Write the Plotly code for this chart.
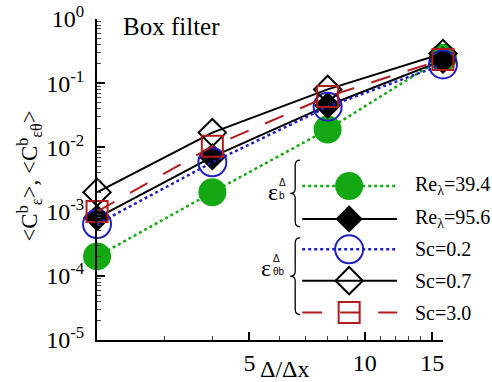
import math
import plotly.graph_objects as go

# ---------------- data ----------------
filter_width = [2, 4, 8, 16]
re_39_4 = [2.0e-4, 2.0e-3, 1.9e-2, 0.25]
re_95_6 = [8.0e-4, 7.1e-3, 4.5e-2, 0.226]
sc_0_2 = [6.4e-4, 5.85e-3, 4.3e-2, 0.196]
sc_0_7 = [2.0e-3, 1.7e-2, 8.0e-2, 0.29]
sc_3_0 = [1.0e-3, 1.04e-2, 6.2e-2, 0.235]

series_names = ["Re<sub>λ</sub>=39.4", "Re<sub>λ</sub>=95.6", "Sc=0.2", "Sc=0.7", "Sc=3.0"]
y_tick_vals = [1e-5, 1e-4, 1e-3, 1e-2, 1e-1, 1e0]
y_tick_text = ["10<sup>-5</sup>", "10<sup>-4</sup>", "10<sup>-3</sup>", "10<sup>-2</sup>",
               "10<sup>-1</sup>", "10<sup>0</sup>"]
x_tick_vals = [5, 10, 15]
x_tick_text = ["5", "10", "15"]

# ---------------- styles ----------------
GREEN = "#14a814"
BLUE = "#1f1fbf"
RED = "#b01c1c"
BLACK = "#000000"
SERIF = "Liberation Serif, Times New Roman, Times, serif"
SANS = "Liberation Sans, Arial, sans-serif"

styles = [
    dict(line=dict(color=GREEN, width=2.5, dash="dot"),
         marker=dict(symbol="circle", size=28, color=GREEN)),
    dict(line=dict(color=BLACK, width=2),
         marker=dict(symbol="diamond", size=21, color=BLACK)),
    dict(line=dict(color=BLUE, width=2.5, dash="dot"),
         marker=dict(symbol="circle-open", size=28, color=BLUE, line=dict(width=2, color=BLUE))),
    dict(line=dict(color=BLACK, width=2),
         marker=dict(symbol="diamond-open", size=21, color=BLACK, line=dict(width=2, color=BLACK))),
    dict(line=dict(color=RED, width=2, dash="20px,18px"),
         marker=dict(symbol="square-open", size=21, color=RED, line=dict(width=2, color=RED))),
]
series = [re_39_4, re_95_6, sc_0_2, sc_0_7, sc_3_0]

W, H = 492, 382
L, R, T, B = 96.5, 49, 18.5, 41.5
X0, X1 = L, W - R
Y0, Y1 = H - B, T


def px(xp):
    return (xp - X0) / (X1 - X0)


def py(yp):
    return (Y0 - yp) / (Y0 - Y1)


def ann(x, y, text, size, family=SERIF, ref="x2", **kw):
    fig.add_annotation(x=x, y=y, xref=ref, yref=ref.replace("x", "y"), text=text,
                       showarrow=False, xanchor=kw.pop("xanchor", "center"),
                       yanchor="middle", font=dict(family=family, size=size, color=BLACK),
                       **kw)


fig = go.Figure()

for vals, st, name in zip(series, styles, series_names):
    fig.add_trace(go.Scatter(x=filter_width, y=vals, mode="lines+markers", name=name,
                             line=st["line"], marker=st["marker"], cliponaxis=False,
                             showlegend=False))

# ---------------- custom legend (overlay pixel axes) ----------------
row_y = [186, 219, 249.5, 281, 313]
line_x = [302, 397]
mark_x = 349
for ry, st, name in zip(row_y, styles, series_names):
    fig.add_trace(go.Scatter(x=line_x, y=[ry, ry], mode="lines", line=st["line"],
                             xaxis="x2", yaxis="y2", showlegend=False, hoverinfo="skip",
                             cliponaxis=False))
    fig.add_trace(go.Scatter(x=[mark_x], y=[ry], mode="markers", marker=st["marker"],
                             xaxis="x2", yaxis="y2", showlegend=False, hoverinfo="skip",
                             cliponaxis=False))
    ann(413, ry, name, 20, xanchor="left")


def brace(xr, ytop, ybot, w=5, tip=5, r=5):
    ym = (ytop + ybot) / 2
    xm = xr - w
    xt = xm - tip
    return (f"M {xr},{ytop} Q {xm},{ytop} {xm},{ytop + r} "
            f"L {xm},{ym - r} Q {xm},{ym} {xt},{ym} "
            f"Q {xm},{ym} {xm},{ym + r} "
            f"L {xm},{ybot - r} Q {xm},{ybot} {xr},{ybot}")


for (yt, yb) in [(160, 227), (238, 315)]:
    fig.add_shape(type="path", path=brace(300, yt, yb), xref="x2", yref="y2",
                  line=dict(color=BLACK, width=1.3))

# epsilon labels
ann(272.5, 192, "ε", 24)
ann(277, 189, "Δ<br>b", 10, SANS, xanchor="left", align="left")
ann(266, 268, "ε", 24)
ann(270.5, 265, "Δ<br>θb", 10, SANS, xanchor="left", align="left")

# title text and axis titles
ann(px(171), py(26), "Box filter", 25, ref="paper")
ann(px(285), py(370), "Δ/Δx", 24, ref="paper")
ann(px(28), py(176),
    "&lt;C<sup>b</sup><sub>ε</sub>&gt;, &lt;C<sup>b</sup><sub>εθ</sub>&gt;", 23,
    ref="paper", textangle=-90)

y_minor = [m * 10.0 ** k for k in range(-5, 0) for m in range(2, 10)]
x_minor = [3, 4, 6, 7, 8, 9, 11, 12, 13, 14]

fig.update_layout(
    width=W, height=H,
    margin=dict(l=L, r=R, t=T, b=B, pad=0),
    paper_bgcolor="white", plot_bgcolor="white",
    showlegend=False,
    font=dict(family=SERIF, size=24, color=BLACK),
    xaxis=dict(type="log", range=[math.log10(2) - 1e-4, math.log10(16) + 1e-4],
               showline=True, linecolor=BLACK, automargin=False,
               linewidth=2, showgrid=False, zeroline=False, ticks="inside", ticklen=8,
               tickwidth=1.5, tickcolor=BLACK, tickmode="array", tickvals=x_tick_vals,
               ticktext=x_tick_text, tickfont=dict(family=SERIF, size=24),
               minor=dict(ticks="inside", ticklen=4, tickwidth=1, tickcolor="#444",
                          tickmode="array", tickvals=x_minor, showgrid=False)),
    yaxis=dict(type="log", range=[-5, 0], showline=True, linecolor=BLACK, automargin=False,
               linewidth=2, showgrid=False, zeroline=False, ticks="inside", ticklen=8,
               tickwidth=1.5, tickcolor=BLACK, tickmode="array", tickvals=y_tick_vals,
               ticktext=y_tick_text, tickfont=dict(family=SERIF, size=24),
               ticklabelstandoff=6,
               minor=dict(ticks="inside", ticklen=4, tickwidth=1, tickcolor="#444",
                          tickmode="array", tickvals=y_minor, showgrid=False)),
    xaxis2=dict(overlaying="x", range=[X0, X1], visible=False, fixedrange=True),
    yaxis2=dict(overlaying="y", range=[Y0, Y1], visible=False, fixedrange=True),
)

fig.write_html("out.html")
